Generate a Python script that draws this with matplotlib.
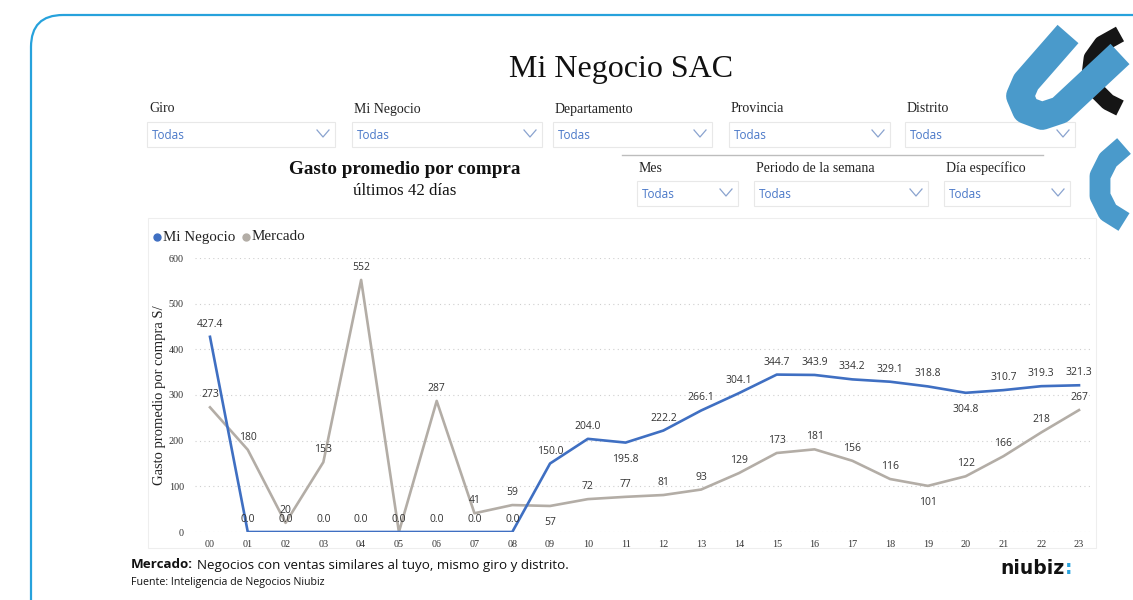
import matplotlib
matplotlib.use("Agg")
import matplotlib.pyplot as plt
from matplotlib.patches import FancyBboxPatch, Rectangle

# ---------------- data ----------------
hours = [f"{h:02d}" for h in range(24)]
mi_negocio = [427.4, 0.0, 0.0, 0.0, 0.0, 0.0, 0.0, 0.0, 0.0, 150.0, 204.0, 195.8,
              222.2, 266.1, 304.1, 344.7, 343.9, 334.2, 329.1, 318.8, 304.8, 310.7, 319.3, 321.3]
mercado = [273, 180, 20, 153, 552, 0, 287, 41, 59, 57, 72, 77,
           81, 93, 129, 173, 181, 156, 116, 101, 122, 166, 218, 267]
y_ticks = [0, 100, 200, 300, 400, 500, 600]
filters_row1 = ["Giro", "Mi Negocio", "Departamento", "Provincia", "Distrito"]
filters_row2 = ["Mes", "Periodo de la semana", "Día específico"]
series_names = ["Mi Negocio", "Mercado"]

# label placement (below the point) for specific indices
mi_below = {11, 20}
mer_below = {9, 19}

BLUE = "#3F6FC2"
GRAY = "#B3ADA6"
LBLUE = "#4A78C8"
FRAME = "#27A2DC"
SERIF = ["Liberation Serif", "DejaVu Serif"]
SANS = ["Open Sans", "DejaVu Sans"]

W, H = 1133, 600
fig = plt.figure(figsize=(W / 100, H / 100), dpi=100)
fig.patch.set_facecolor("white")
renderer = fig.canvas.get_renderer()

# overlay axes in pixel coordinates for decorations
ov = fig.add_axes([0, 0, 1, 1], zorder=0)
ov.set_xlim(0, W)
ov.set_ylim(H, 0)
ov.axis("off")

def right_px(t):
    bb = t.get_window_extent(renderer=renderer)
    return bb.x1

# outer rounded frame
ov.add_patch(FancyBboxPatch((31, 15), 1200, 700, boxstyle="round,pad=0,rounding_size=32",
                            fc="none", ec=FRAME, lw=1.6))

# decorative logo shapes (top right)
ov.plot([1120, 1102, 1092, 1090, 1096, 1108, 1120], [34, 44, 58, 74, 90, 102, 108], color="#151515", lw=12,
        solid_capstyle="butt", solid_joinstyle="round")
ov.plot([1068, 1026, 1020, 1026, 1042, 1060, 1120], [34, 82, 96, 110, 116, 110, 54], color="#4A9ACB",
        lw=20, solid_capstyle="butt", solid_joinstyle="round")
ov.plot([1124, 1108, 1100, 1100, 1108, 1124], [146, 160, 176, 196, 212, 222], color="#4A9ACB", lw=15,
        solid_capstyle="butt", solid_joinstyle="round")

# chart panel border
ov.add_patch(Rectangle((148, 218), 948, 330, fc="none", ec="#EEEEEE", lw=0.8))

# title
ov.text(621, 69, "Mi Negocio SAC", family=SERIF, fontsize=23, ha="center", va="center", color="#111111")

def dropdown(x0, x1, ylab, ybox, label):
    ov.text(x0 + 2, ylab, label, family=SERIF, fontsize=10, ha="left", va="center", color="#222222")
    ov.add_patch(Rectangle((x0, ybox), x1 - x0, 25, fc="white", ec="#E8E8E8", lw=0.8))
    ov.text(x0 + 5, ybox + 13.5, "Todas", family=SANS, fontsize=8.5, ha="left", va="center", color=LBLUE)
    cx = x1 - 12
    cy = ybox + 12
    ov.plot([cx - 6, cx, cx + 6], [cy - 4, cy + 3, cy - 4], color="#8AA3CF", lw=0.9)

row1_x = [(147, 335), (352, 542), (553, 712), (729, 890), (905, 1075)]
for (x0, x1), lab in zip(row1_x, filters_row1):
    dropdown(x0, x1, 109, 122, lab)

ov.plot([622, 1043], [155, 155], color="#BDBDBD", lw=1)
row2_x = [(637, 738), (754, 928), (944, 1070)]
for (x0, x1), lab in zip(row2_x, filters_row2):
    dropdown(x0, x1, 168, 181, lab)

ov.text(405, 170, "Gasto promedio por compra", family=SERIF, fontsize=13.8, fontweight="bold",
        ha="center", va="center", color="#111111")
ov.text(405, 191, "últimos 42 días", family=SERIF, fontsize=12.2, ha="center", va="center", color="#111111")

# legend
ov.plot([157], [237], "o", color=BLUE, ms=5)
ov.text(163, 237, series_names[0], family=SERIF, fontsize=10.8, ha="left", va="center", color="#222222")
ov.plot([246], [237], "o", color=GRAY, ms=5)
ov.text(252, 237, series_names[1], family=SERIF, fontsize=10.8, ha="left", va="center", color="#222222")

# y label
ov.text(160, 395, "Gasto promedio por compra S/", family=SERIF, fontsize=10.5, rotation=90,
        ha="center", va="center", color="#222222")

# footer
t1 = ov.text(131, 565, "Mercado:", family=SANS, fontsize=9.6, fontweight="bold", ha="left", va="center",
             color="#111111")
x_after = right_px(t1) + 4
ov.text(x_after, 565, "Negocios con ventas similares al tuyo, mismo giro y distrito.", family=SANS,
        fontsize=9.6, ha="left", va="center", color="#111111")
ov.text(131, 583, "Fuente: Inteligencia de Negocios Niubiz", family=SANS, fontsize=7.7, ha="left", va="center",
        color="#111111")
tn = ov.text(1000, 568, "niubiz", family=["DejaVu Sans"], fontsize=13.5, fontweight="bold", ha="left",
             va="center", color="#111111")
ov.text(right_px(tn) + 1, 568, ":", family=["DejaVu Sans"], fontsize=13.5, fontweight="bold", ha="left",
        va="center", color="#29A3DD")

# ---------------- main chart ----------------
ax = fig.add_axes([195 / W, 1 - 532 / H, 897 / W, 274 / H], zorder=2)
ax.patch.set_alpha(0)
x = list(range(len(hours)))
ax.plot(x, mercado, color=GRAY, lw=1.9, zorder=3)
ax.plot(x, mi_negocio, color=BLUE, lw=1.9, zorder=4)
ax.set_xlim(-0.397, 23.344)
ax.set_ylim(0, 600)
ax.set_yticks(y_ticks)
ax.set_xticks(x)
ax.set_xticklabels(hours)
for lab in ax.get_xticklabels() + ax.get_yticklabels():
    lab.set_family(SERIF)
    lab.set_fontsize(7.3)
    lab.set_color("#333333")
ax.tick_params(length=0)
ax.tick_params(axis="x", pad=6)
ax.tick_params(axis="y", pad=8)
ax.grid(axis="y", linestyle=(0, (1, 3)), color="#CFCFCF", lw=0.8)
for s in ax.spines.values():
    s.set_visible(False)

for i, v in enumerate(mercado):
    if v == 0 and mi_negocio[i] == 0:
        continue  # hidden behind the Mi Negocio label, as in the report
    off = -12 if i in mer_below else 9
    ax.annotate(f"{v}", (i, v), xytext=(0, off), textcoords="offset points", ha="center", va="center",
                fontsize=7.5, family=SANS, color="#333333", zorder=5, annotation_clip=False)
for i, v in enumerate(mi_negocio):
    off = -12 if i in mi_below else 9
    ax.annotate(f"{v:.1f}", (i, v), xytext=(0, off), textcoords="offset points", ha="center", va="center",
                fontsize=7.5, family=SANS, color="#333333", zorder=5, annotation_clip=False)

fig.savefig("out.png", dpi=100, facecolor="white")
